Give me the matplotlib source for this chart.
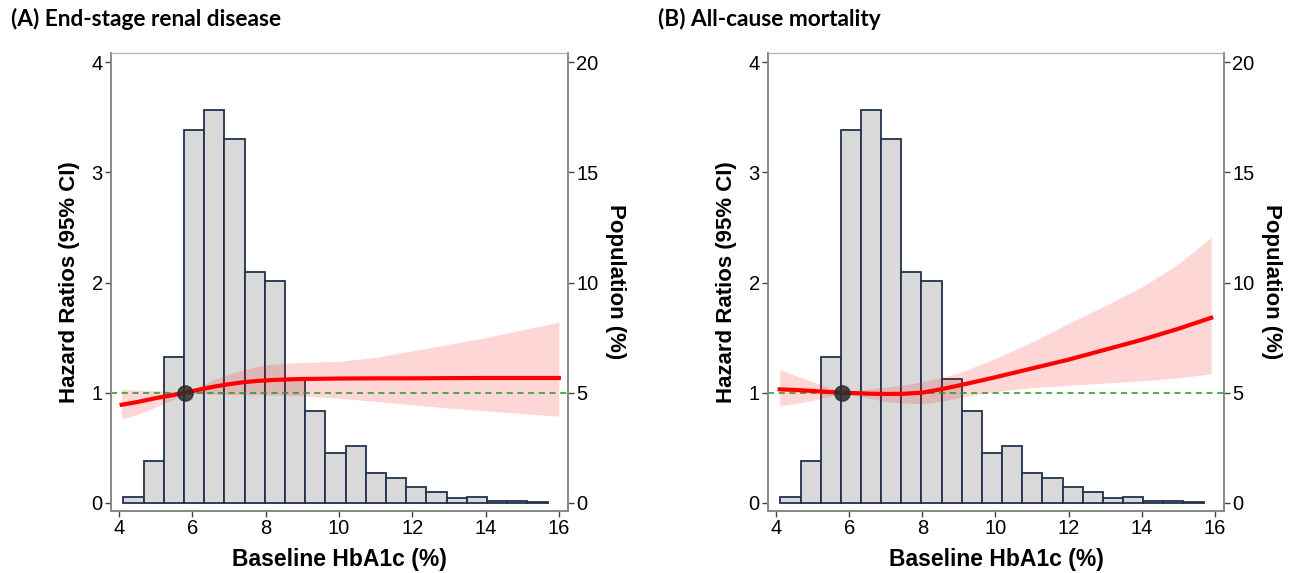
import numpy as np
import matplotlib
matplotlib.use("Agg")
import matplotlib.pyplot as plt

plt.rcParams['font.family'] = 'sans-serif'
plt.rcParams['font.sans-serif'] = ['Liberation Sans', 'Arial', 'DejaVu Sans']

# histogram of baseline HbA1c (population %), same cohort in both panels
bin_start = 4.12
bin_width = 0.551
pop_pct = [0.25, 1.88, 6.64, 16.93, 17.85, 16.53, 10.5, 10.05, 5.64, 4.17, 2.26,
           2.58, 1.35, 1.13, 0.73, 0.47, 0.2, 0.25, 0.09, 0.07, 0.05]

ref_x = 5.8  # reference HbA1c

# (A) End-stage renal disease
esrd_x  = [4.07, 4.5, 5.0, 5.5, 5.8, 6.2, 6.6, 7.0, 7.4, 7.8, 8.2, 8.6, 9.0, 10, 11, 12, 13, 14, 15, 16.0]
esrd_hr = [0.89, 0.915, 0.95, 0.98, 1.0, 1.028, 1.055, 1.077, 1.095, 1.107, 1.115, 1.12, 1.124, 1.128, 1.13, 1.13, 1.132, 1.133, 1.133, 1.133]
esrd_up = [1.03, 1.025, 1.02, 1.01, 1.0, 1.06, 1.12, 1.17, 1.21, 1.24, 1.26, 1.27, 1.275, 1.285, 1.32, 1.38, 1.44, 1.50, 1.57, 1.64]
esrd_lo = [0.76, 0.80, 0.87, 0.94, 1.0, 0.99, 0.985, 0.98, 0.98, 0.98, 0.978, 0.975, 0.97, 0.95, 0.92, 0.89, 0.86, 0.835, 0.81, 0.785]

# (B) All-cause mortality
mort_x  = [4.1, 4.5, 5.0, 5.5, 5.8, 6.2, 6.6, 7.0, 7.5, 8.0, 8.5, 9.0, 10, 11, 12, 13, 14, 15, 15.9]
mort_hr = [1.03, 1.025, 1.015, 1.005, 1.0, 0.995, 0.99, 0.988, 0.99, 1.0, 1.03, 1.065, 1.14, 1.22, 1.30, 1.39, 1.48, 1.58, 1.68]
mort_up = [1.21, 1.16, 1.10, 1.04, 1.0, 1.02, 1.035, 1.05, 1.07, 1.10, 1.135, 1.18, 1.31, 1.46, 1.63, 1.79, 1.96, 2.17, 2.41]
mort_lo = [0.88, 0.90, 0.93, 0.97, 1.0, 0.97, 0.945, 0.92, 0.905, 0.90, 0.92, 0.955, 1.01, 1.045, 1.067, 1.087, 1.107, 1.135, 1.17]

panels = [
    ("(A) End-stage renal disease", 11, esrd_x, esrd_hr, esrd_up, esrd_lo, [111, 568]),
    ("(B) All-cause mortality", 658, mort_x, mort_hr, mort_up, mort_lo, [768, 1224]),
]

W, H = 1297, 573
fig = plt.figure(figsize=(W / 100, H / 100), dpi=100)

ylim = (-0.075, 4.085)
xlim = (3.78, 16.25)
edges = bin_start + bin_width * np.arange(len(pop_pct))

for title, tx, x, hr, up, lo, (px0, px1) in panels:
    ax = fig.add_axes([px0 / W, 1 - 511 / H, (px1 - px0) / W, (511 - 53) / H])
    ax2 = ax.twinx()
    ax.set_zorder(ax2.get_zorder() + 1)
    ax.patch.set_visible(False)

    ax2.bar(edges, pop_pct, width=bin_width, align='edge',
            facecolor='#d9d9d9', edgecolor='#22324f', linewidth=1.3)
    ax2.set_ylim(ylim[0] * 5, ylim[1] * 5)
    ax2.set_yticks([0, 5, 10, 15, 20])

    ax.fill_between(x, lo, up, color='red', alpha=0.16, linewidth=0)
    ax.axhline(1, color='#1f9a1f', linestyle=(0, (4, 3)), linewidth=1.1)
    ax.plot(x, hr, color='#ff0000', linewidth=3)
    ax.plot([ref_x], [1], 'o', color='#2b2b2b', alpha=0.85, markersize=11)

    ax.set_xlim(xlim)
    ax.set_ylim(ylim)
    ax.set_xticks([4, 6, 8, 10, 12, 14, 16])
    ax.set_yticks([0, 1, 2, 3, 4])

    for a in (ax, ax2):
        a.tick_params(labelsize=14.5, length=4, width=1, color='#444444', pad=2)
        for side in ['left', 'right', 'bottom']:
            a.spines[side].set_color('#8a8a8a')
            a.spines[side].set_linewidth(1.3)
        a.spines['top'].set_color('#b0b0b0')
        a.spines['top'].set_linewidth(0.8)

    ax.set_xlabel("Baseline HbA1c (%)", fontsize=16.5, fontweight='bold', labelpad=7)
    ax.set_ylabel("Hazard Ratios (95% CI)", fontsize=16, fontweight='bold', labelpad=8)
    ax2.set_ylabel("Population (%)", fontsize=16, fontweight='bold', rotation=270, labelpad=20)

    fig.text(tx / W, 1 - 19 / H, title, fontsize=16.3, fontweight='bold',
             family=['Lato', 'DejaVu Sans'], va='center', ha='left')

fig.savefig("out.png", dpi=100)
